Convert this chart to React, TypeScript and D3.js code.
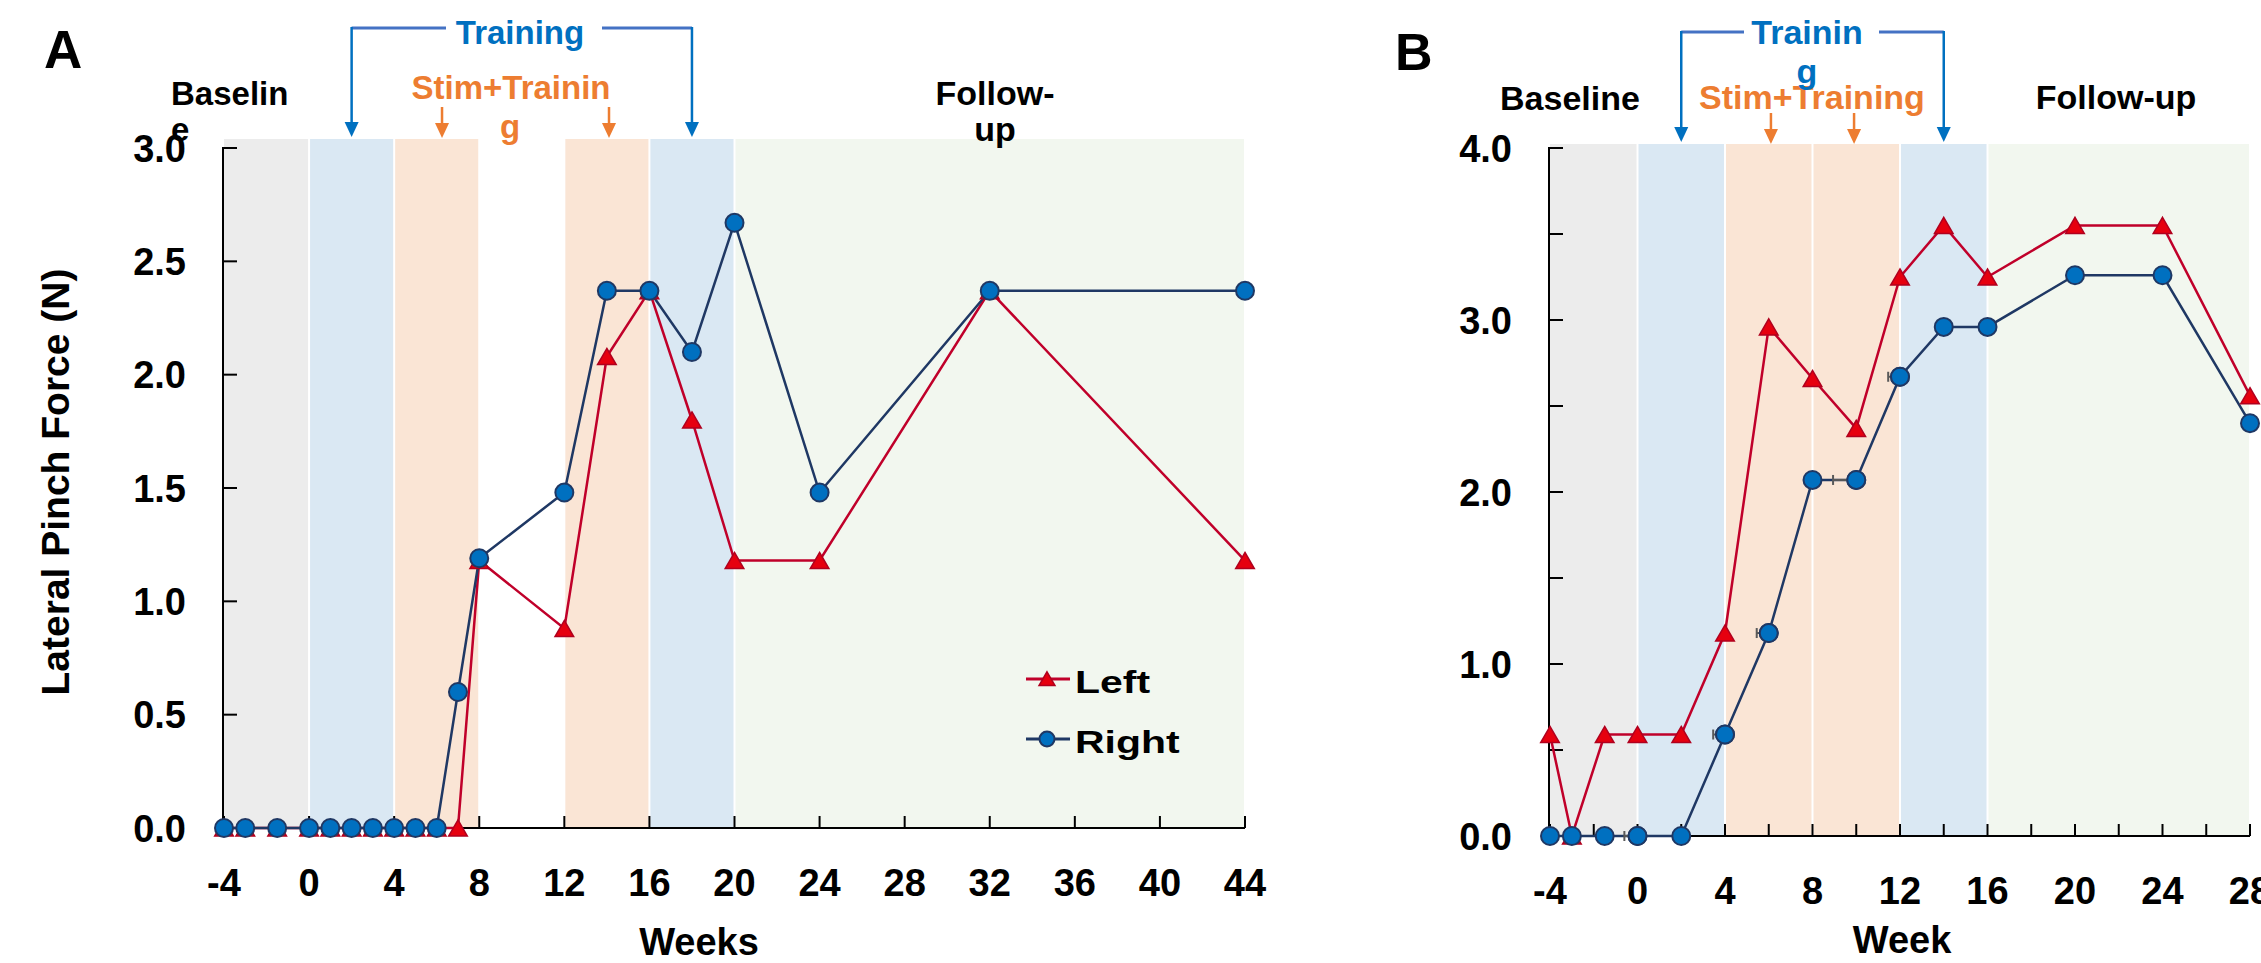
import React from "react";
import * as d3 from "d3";

// ---------- Data ----------
const weeksA = [-4, -3, -1.5, 0, 1, 2, 3, 4, 5, 6, 7, 8, 12, 14, 16, 18, 20, 24, 32, 44];
const leftA = [0, 0, 0, 0, 0, 0, 0, 0, 0, 0, 0, 1.18, 0.88, 2.08, 2.37, 1.8, 1.18, 1.18, 2.37, 1.18];
const rightA = [0, 0, 0, 0, 0, 0, 0, 0, 0, 0, 0.6, 1.19, 1.48, 2.37, 2.37, 2.1, 2.67, 1.48, 2.37, 2.37];

const weeksB = [-4, -3, -1.5, 0, 2, 4, 6, 8, 10, 12, 14, 16, 20, 24, 28];
const leftB = [0.59, 0, 0.59, 0.59, 0.59, 1.18, 2.96, 2.66, 2.37, 3.25, 3.55, 3.25, 3.55, 3.55, 2.56];
const rightB = [0, 0, 0, 0, 0, 0.59, 1.18, 2.07, 2.07, 2.67, 2.96, 2.96, 3.26, 3.26, 2.4];

// horizontal error bars (right hand, panel B)
const errWeeksB = [0, 4, 6, 10, 12];
const errLowB = [-0.6, 3.46, 5.45, 8.94, 11.46];
const errValB = [0, 0.59, 1.18, 2.07, 2.67];

const bandStartA = [-4, 0, 4, 12, 16, 20];
const bandEndA = [0, 4, 8, 16, 20, 44];
const bandStartB = [-4, 0, 4, 8, 12, 16];
const bandEndB = [0, 4, 8, 12, 16, 28];
const bandKinds = ["base", "train", "stim", "stim", "train", "follow"];

const xTicksA = [-4, 0, 4, 8, 12, 16, 20, 24, 28, 32, 36, 40, 44];
const yTicksA = [0, 0.5, 1, 1.5, 2, 2.5, 3];
const xTicksB = [-4, 0, 4, 8, 12, 16, 20, 24, 28];
const xMinorB = d3.range(-4, 28.01, 2);
const yTicksB = [0, 1, 2, 3, 4];
const yMinorB = d3.range(0, 4.01, 0.5);

// ---------- Style ----------
const FONT = "'Liberation Sans', Arial, Helvetica, sans-serif";
const bandColor: Record<string, string> = {
  base: "#ececec",
  train: "#dae8f3",
  stim: "#fae5d5",
  follow: "#f2f7ef",
};
const NAVY = "#1f3864";
const BLUE = "#0070c0";
const RED_LINE = "#c0002a";
const RED_FILL = "#e6000f";
const RED_STROKE = "#b0001e";
const ORANGE = "#ed7d31";
const BRACKET = "#4472c4";

const triPath = d3.symbol().type(d3.symbolTriangle).size(150)()!;
const triSmall = d3.symbol().type(d3.symbolTriangle).size(110)()!;

function ArrowDown({ x, y1, y2, color, w = 2.5 }: { x: number; y1: number; y2: number; color: string; w?: number }) {
  const hw = 7;
  const hh = 15;
  return (
    <g>
      <line x1={x} x2={x} y1={y1} y2={y2 - hh + 2} stroke={color} strokeWidth={w} />
      <path d={`M${x - hw},${y2 - hh} L${x + hw},${y2 - hh} L${x},${y2} Z`} fill={color} />
    </g>
  );
}

type PanelProps = {
  weeks: number[];
  left: number[];
  right: number[];
  x: d3.ScaleLinear<number, number>;
  y: d3.ScaleLinear<number, number>;
  bandStart: number[];
  bandEnd: number[];
  bandTop: number;
  xTicks: number[];
  xMinor: number[];
  yTicks: number[];
  yMinor: number[];
  yFmt: (v: number) => string;
};

function Panel(p: PanelProps) {
  const { x, y } = p;
  const line = d3
    .line<[number, number]>()
    .x((d) => x(d[0]))
    .y((d) => y(d[1]));
  const leftPts = p.weeks.map((w, i) => [w, p.left[i]] as [number, number]);
  const rightPts = p.weeks.map((w, i) => [w, p.right[i]] as [number, number]);
  const x0 = x.range()[0];
  const x1 = x.range()[1];
  const y0 = y.range()[0];
  const yTop = y.range()[1];
  return (
    <g>
      {p.bandStart.map((s, i) => (
        <rect
          key={"b" + i}
          x={x(s) + (i === 0 ? 0 : 1)}
          y={p.bandTop}
          width={x(p.bandEnd[i]) - x(s) - (i === 0 ? 1 : 2)}
          height={y0 - p.bandTop}
          fill={bandColor[bandKinds[i]]}
        />
      ))}
      {/* axes */}
      <line x1={x0 - 1} x2={x0 - 1} y1={yTop - 1} y2={y0} stroke="#000" strokeWidth={2} />
      <line x1={x0 - 1} x2={x1} y1={y0} y2={y0} stroke="#000" strokeWidth={2} />
      {p.yMinor.map((v) => (
        <line key={"yt" + v} x1={x0 - 1} x2={x0 + 13} y1={y(v)} y2={y(v)} stroke="#000" strokeWidth={2} />
      ))}
      {p.xMinor.map((v) => (
        <line key={"xt" + v} x1={x(v)} x2={x(v)} y1={y0} y2={y0 - 12} stroke="#000" strokeWidth={2} />
      ))}
      {p.yTicks.map((v) => (
        <text
          key={"yl" + v}
          x={x0 - 38}
          y={y(v) + 13.5}
          textAnchor="end"
          fontFamily={FONT}
          fontWeight="bold"
          fontSize={38}
        >
          {p.yFmt(v)}
        </text>
      ))}
      {p.xTicks.map((v) => (
        <text
          key={"xl" + v}
          x={x(v)}
          y={y0 + 68}
          textAnchor="middle"
          fontFamily={FONT}
          fontWeight="bold"
          fontSize={38}
        >
          {v}
        </text>
      ))}
      {/* lines */}
      <path d={line(leftPts)!} fill="none" stroke={RED_LINE} strokeWidth={2.5} />
      <path d={line(rightPts)!} fill="none" stroke={NAVY} strokeWidth={2.5} />
      {leftPts.map((d, i) => (
        <path
          key={"lm" + i}
          d={triPath}
          transform={`translate(${x(d[0])},${y(d[1]) + 2.7})`}
          fill={RED_FILL}
          stroke={RED_STROKE}
          strokeWidth={1.5}
        />
      ))}
      {rightPts.map((d, i) => (
        <circle key={"rm" + i} cx={x(d[0])} cy={y(d[1])} r={9} fill={BLUE} stroke={NAVY} strokeWidth={2} />
      ))}
    </g>
  );
}

export default function App() {
  const xA = d3.scaleLinear().domain([-4, 44]).range([224, 1245]);
  const yA = d3.scaleLinear().domain([0, 3]).range([828, 148]);
  const xB = d3.scaleLinear().domain([-4, 28]).range([1550, 2250]);
  const yB = d3.scaleLinear().domain([0, 4]).range([836, 148]);
  const fmt = d3.format(".1f");

  const txt = (props: any, s: string) => (
    <text fontFamily={FONT} fontWeight="bold" {...props}>
      {s}
    </text>
  );

  return (
    <svg
      width={2261}
      height={963}
      style={{ position: "absolute", left: 0, top: 0, background: "#fff" }}
    >
      <rect x={0} y={0} width={2261} height={963} fill="#fff" />
      {/* ---------- Panel A ---------- */}
      <Panel
        weeks={weeksA}
        left={leftA}
        right={rightA}
        x={xA}
        y={yA}
        bandStart={bandStartA}
        bandEnd={bandEndA}
        bandTop={139}
        xTicks={xTicksA}
        xMinor={xTicksA}
        yTicks={yTicksA}
        yMinor={yTicksA}
        yFmt={fmt}
      />
      {txt({ x: 44, y: 68, fontSize: 53 }, "A")}
      {txt({ x: 171, y: 105, fontSize: 33 }, "Baselin")}
      {txt({ x: 171, y: 141, fontSize: 33 }, "e")}
      {txt({ x: 520, y: 44, fontSize: 33, fill: BLUE, textAnchor: "middle" }, "Training")}
      {txt({ x: 511, y: 99, fontSize: 33, fill: ORANGE, textAnchor: "middle" }, "Stim+Trainin")}
      {txt({ x: 510, y: 138, fontSize: 33, fill: ORANGE, textAnchor: "middle" }, "g")}
      {txt({ x: 995, y: 105, fontSize: 34, textAnchor: "middle" }, "Follow-")}
      {txt({ x: 995, y: 141, fontSize: 34, textAnchor: "middle" }, "up")}
      {/* training bracket A */}
      <line x1={xA(2)} x2={446} y1={28} y2={28} stroke={BRACKET} strokeWidth={3} />
      <line x1={602} x2={xA(18)} y1={28} y2={28} stroke={BRACKET} strokeWidth={3} />
      <ArrowDown x={xA(2)} y1={27} y2={137} color={BLUE} />
      <ArrowDown x={xA(18)} y1={27} y2={137} color={BLUE} />
      <ArrowDown x={xA(6.25)} y1={107} y2={138} color={ORANGE} />
      <ArrowDown x={xA(14.1)} y1={107} y2={138} color={ORANGE} />
      {/* y label A */}
      <text
        transform="translate(69,482) rotate(-90)"
        textAnchor="middle"
        fontFamily={FONT}
        fontWeight="bold"
        fontSize={39}
      >
        Lateral Pinch Force (N)
      </text>
      {txt({ x: 699, y: 955, fontSize: 38, textAnchor: "middle" }, "Weeks")}
      {/* legend A */}
      <line x1={1026} x2={1070} y1={679} y2={679} stroke={RED_LINE} strokeWidth={3} />
      <path d={triSmall} transform={`translate(1047,681)`} fill={RED_FILL} stroke={RED_STROKE} strokeWidth={1.5} />
      <text
        transform="translate(1075,693) scale(1.28,1)"
        fontFamily={FONT}
        fontWeight="bold"
        fontSize={32}
      >
        Left
      </text>
      <line x1={1026} x2={1070} y1={739} y2={739} stroke={NAVY} strokeWidth={3} />
      <circle cx={1047} cy={739} r={7.5} fill={BLUE} stroke={NAVY} strokeWidth={2} />
      <text
        transform="translate(1075,753) scale(1.28,1)"
        fontFamily={FONT}
        fontWeight="bold"
        fontSize={32}
      >
        Right
      </text>

      {/* ---------- Panel B ---------- */}
      <Panel
        weeks={weeksB}
        left={leftB}
        right={rightB}
        x={xB}
        y={yB}
        bandStart={bandStartB}
        bandEnd={bandEndB}
        bandTop={144}
        xTicks={xTicksB}
        xMinor={xMinorB}
        yTicks={yTicksB}
        yMinor={yMinorB}
        yFmt={fmt}
      />
      {/* error bars B */}
      {errWeeksB.map((w, i) => (
        <g key={"eb" + i} stroke="#595959" strokeWidth={2}>
          <line x1={xB(errLowB[i])} x2={xB(w) - 8} y1={yB(errValB[i])} y2={yB(errValB[i])} />
          <line
            x1={xB(errLowB[i])}
            x2={xB(errLowB[i])}
            y1={yB(errValB[i]) - 5}
            y2={yB(errValB[i]) + 5}
          />
        </g>
      ))}
      {/* redraw circles over error bars */}
      {errWeeksB.map((w, i) => (
        <circle key={"ec" + i} cx={xB(w)} cy={yB(errValB[i])} r={9} fill={BLUE} stroke={NAVY} strokeWidth={2} />
      ))}
      {txt({ x: 1395, y: 70, fontSize: 52 }, "B")}
      {txt({ x: 1570, y: 110, fontSize: 34, textAnchor: "middle" }, "Baseline")}
      {txt({ x: 2116, y: 109, fontSize: 34, textAnchor: "middle" }, "Follow-up")}
      {txt({ x: 1812, y: 109, fontSize: 34, fill: ORANGE, textAnchor: "middle" }, "Stim+Training")}
      {txt({ x: 1807, y: 44, fontSize: 34, fill: BLUE, textAnchor: "middle" }, "Trainin")}
      {txt({ x: 1807, y: 83, fontSize: 34, fill: BLUE, textAnchor: "middle" }, "g")}
      <line x1={xB(2)} x2={1744} y1={32} y2={32} stroke={BRACKET} strokeWidth={3} />
      <line x1={1879} x2={xB(14)} y1={32} y2={32} stroke={BRACKET} strokeWidth={3} />
      <ArrowDown x={xB(2)} y1={31} y2={142} color={BLUE} />
      <ArrowDown x={xB(14)} y1={31} y2={142} color={BLUE} />
      <ArrowDown x={xB(6.1)} y1={113} y2={144} color={ORANGE} />
      <ArrowDown x={xB(9.9)} y1={113} y2={144} color={ORANGE} />
      {txt({ x: 1902, y: 953, fontSize: 38, textAnchor: "middle" }, "Week")}
    </svg>
  );
}
